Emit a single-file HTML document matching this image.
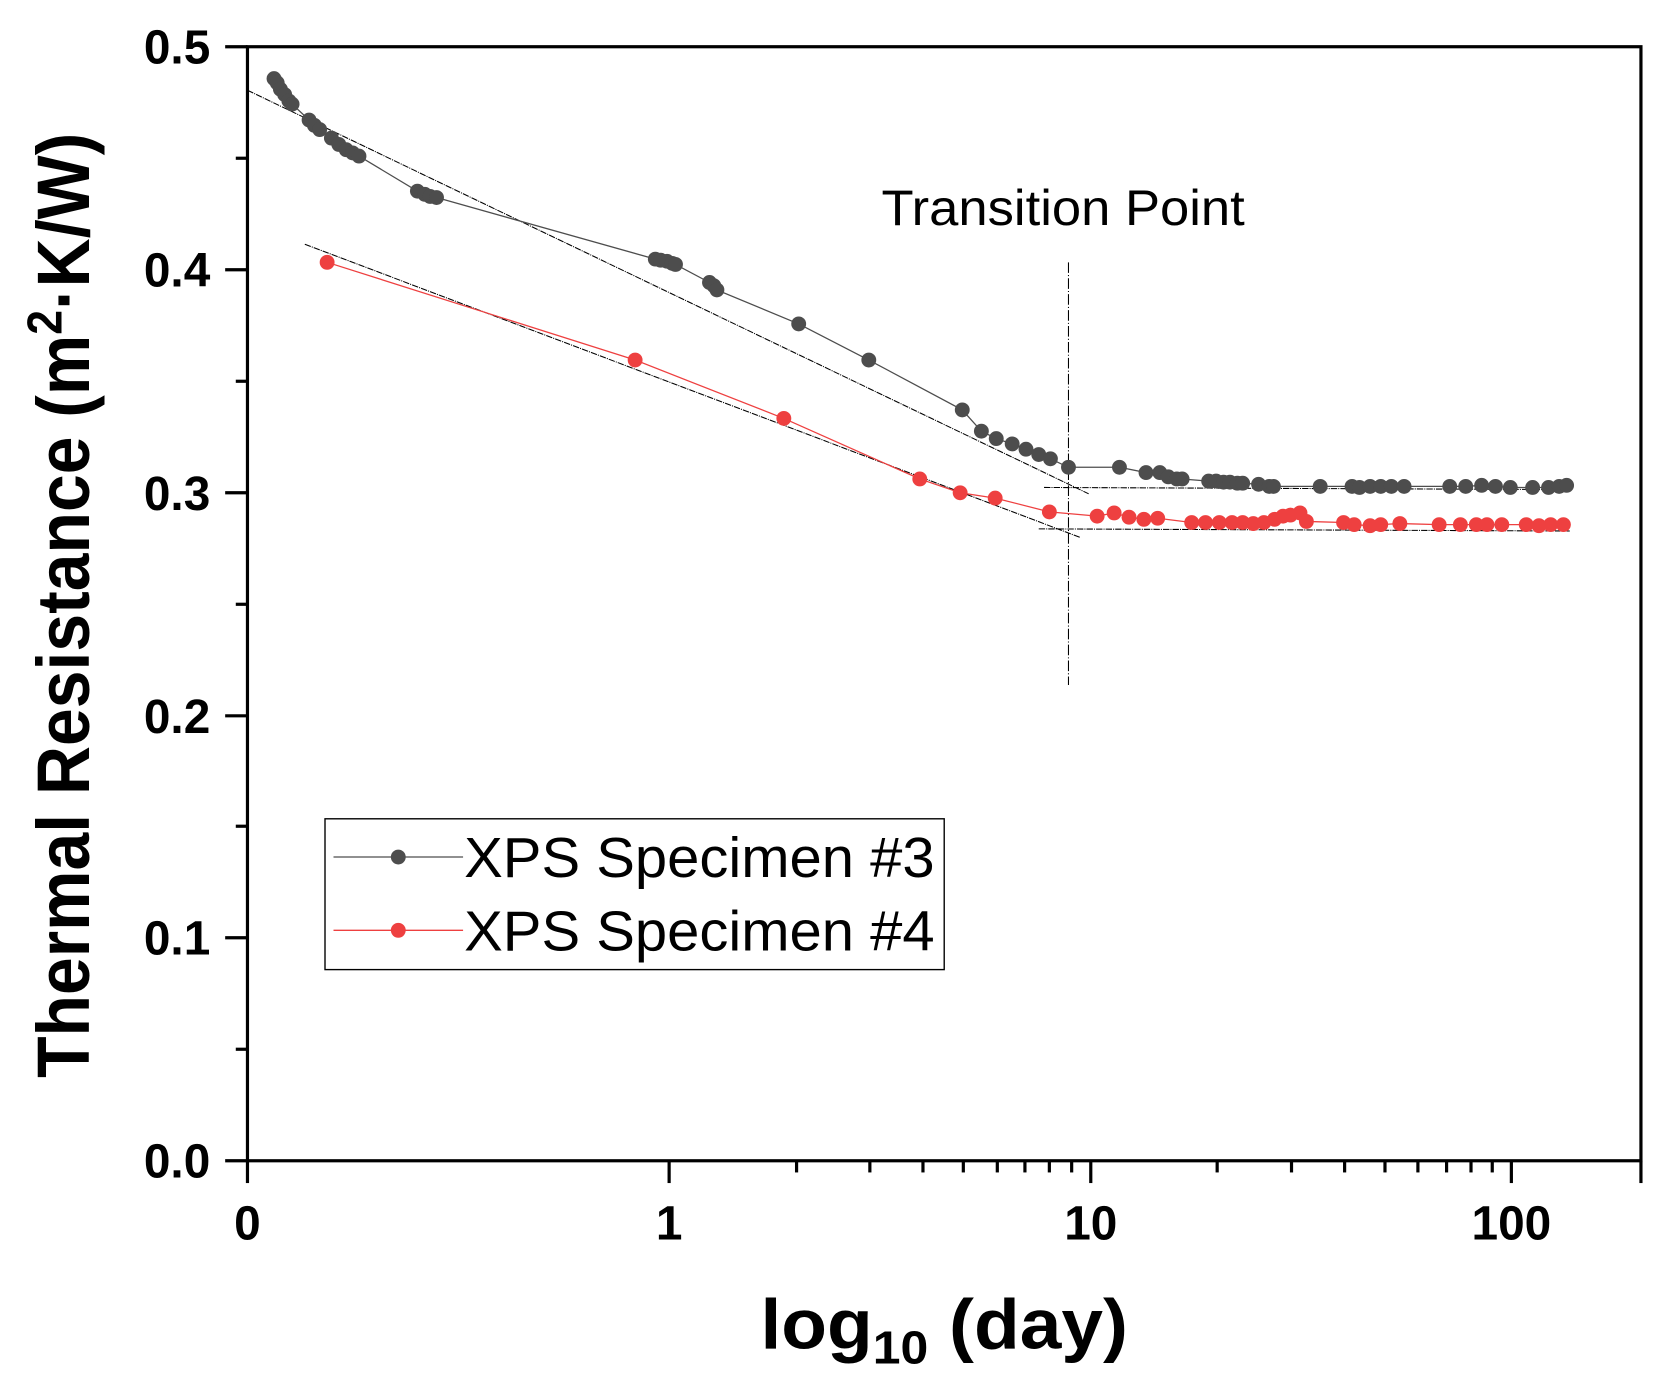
<!DOCTYPE html>
<html><head><meta charset="utf-8"><style>html,body{margin:0;padding:0;background:#fff;overflow:hidden}svg{display:block}</style></head>
<body>
<svg width="1659" height="1379" viewBox="0 0 1562 1298.5" preserveAspectRatio="none" xmlns="http://www.w3.org/2000/svg" font-family="Liberation Sans, Arial, sans-serif">
<rect width="1562" height="1298.5" fill="#fff"/>
<g stroke="#000" stroke-width="1" fill="none" stroke-dasharray="6,1,1,1">
<line x1="233" y1="85" x2="1025" y2="465"/>
<line x1="287" y1="230" x2="1017" y2="506"/>
<line x1="983" y1="459" x2="1478" y2="461"/>
<line x1="978" y1="498" x2="1478" y2="500"/>
<line x1="1006" y1="247" x2="1006" y2="645" stroke-dasharray="10,2,1,2"/>
</g>
<polyline fill="none" stroke="#4d4d4d" stroke-width="1.2" points="258,74 261,78 264,84 268,89 272,95 275,98 291,113 296,118 301,122 312,130 319,136 326,141 332,144 338,147 393,180 400,183 405,185 411,186 617,244 622,245 628,246 633,248 636,249 668,266 672,269 675,273 752,305 818,339 906,386 924,406 938,413 953,418 966,423 978,428 989,432 1006,440 1054,440 1079,445 1092,445 1100,449 1108,451 1113,451 1138,453 1145,453 1152,454 1158,454 1165,455 1170,455 1185,456 1195,458 1199,458 1243,458 1273,458 1280,459 1290,458 1300,458 1310,458 1322,458 1365,458 1380,458 1395,457 1408,458 1422,459 1443,459 1458,459 1468,458 1475,457"/>
<g fill="#4d4d4d">
<circle cx="258" cy="74" r="7"/><circle cx="261" cy="78" r="7"/><circle cx="264" cy="84" r="7"/><circle cx="268" cy="89" r="7"/><circle cx="272" cy="95" r="7"/><circle cx="275" cy="98" r="7"/><circle cx="291" cy="113" r="7"/><circle cx="296" cy="118" r="7"/><circle cx="301" cy="122" r="7"/><circle cx="312" cy="130" r="7"/><circle cx="319" cy="136" r="7"/><circle cx="326" cy="141" r="7"/><circle cx="332" cy="144" r="7"/><circle cx="338" cy="147" r="7"/><circle cx="393" cy="180" r="7"/><circle cx="400" cy="183" r="7"/><circle cx="405" cy="185" r="7"/><circle cx="411" cy="186" r="7"/><circle cx="617" cy="244" r="7"/><circle cx="622" cy="245" r="7"/><circle cx="628" cy="246" r="7"/><circle cx="633" cy="248" r="7"/><circle cx="636" cy="249" r="7"/><circle cx="668" cy="266" r="7"/><circle cx="672" cy="269" r="7"/><circle cx="675" cy="273" r="7"/><circle cx="752" cy="305" r="7"/><circle cx="818" cy="339" r="7"/><circle cx="906" cy="386" r="7"/><circle cx="924" cy="406" r="7"/><circle cx="938" cy="413" r="7"/><circle cx="953" cy="418" r="7"/><circle cx="966" cy="423" r="7"/><circle cx="978" cy="428" r="7"/><circle cx="989" cy="432" r="7"/><circle cx="1006" cy="440" r="7"/><circle cx="1054" cy="440" r="7"/><circle cx="1079" cy="445" r="7"/><circle cx="1092" cy="445" r="7"/><circle cx="1100" cy="449" r="7"/><circle cx="1108" cy="451" r="7"/><circle cx="1113" cy="451" r="7"/><circle cx="1138" cy="453" r="7"/><circle cx="1145" cy="453" r="7"/><circle cx="1152" cy="454" r="7"/><circle cx="1158" cy="454" r="7"/><circle cx="1165" cy="455" r="7"/><circle cx="1170" cy="455" r="7"/><circle cx="1185" cy="456" r="7"/><circle cx="1195" cy="458" r="7"/><circle cx="1199" cy="458" r="7"/><circle cx="1243" cy="458" r="7"/><circle cx="1273" cy="458" r="7"/><circle cx="1280" cy="459" r="7"/><circle cx="1290" cy="458" r="7"/><circle cx="1300" cy="458" r="7"/><circle cx="1310" cy="458" r="7"/><circle cx="1322" cy="458" r="7"/><circle cx="1365" cy="458" r="7"/><circle cx="1380" cy="458" r="7"/><circle cx="1395" cy="457" r="7"/><circle cx="1408" cy="458" r="7"/><circle cx="1422" cy="459" r="7"/><circle cx="1443" cy="459" r="7"/><circle cx="1458" cy="459" r="7"/><circle cx="1468" cy="458" r="7"/><circle cx="1475" cy="457" r="7"/>
</g>
<polyline fill="none" stroke="#ee4040" stroke-width="1.2" points="308,247 598,339 738,394 866,451 904,464 937,469 988,482 1033,486 1049,483 1063,487 1077,489 1090,488 1122,492 1135,492 1148,492 1160,492 1170,492 1180,493 1190,492 1200,489 1208,486 1215,485 1224,483 1230,491 1265,492 1275,494 1290,495 1300,494 1318,493 1355,494 1375,494 1390,494 1400,494 1414,494 1437,494 1449,495 1460,494 1472,494"/>
<g fill="#ee4040">
<circle cx="308" cy="247" r="7"/><circle cx="598" cy="339" r="7"/><circle cx="738" cy="394" r="7"/><circle cx="866" cy="451" r="7"/><circle cx="904" cy="464" r="7"/><circle cx="937" cy="469" r="7"/><circle cx="988" cy="482" r="7"/><circle cx="1033" cy="486" r="7"/><circle cx="1049" cy="483" r="7"/><circle cx="1063" cy="487" r="7"/><circle cx="1077" cy="489" r="7"/><circle cx="1090" cy="488" r="7"/><circle cx="1122" cy="492" r="7"/><circle cx="1135" cy="492" r="7"/><circle cx="1148" cy="492" r="7"/><circle cx="1160" cy="492" r="7"/><circle cx="1170" cy="492" r="7"/><circle cx="1180" cy="493" r="7"/><circle cx="1190" cy="492" r="7"/><circle cx="1200" cy="489" r="7"/><circle cx="1208" cy="486" r="7"/><circle cx="1215" cy="485" r="7"/><circle cx="1224" cy="483" r="7"/><circle cx="1230" cy="491" r="7"/><circle cx="1265" cy="492" r="7"/><circle cx="1275" cy="494" r="7"/><circle cx="1290" cy="495" r="7"/><circle cx="1300" cy="494" r="7"/><circle cx="1318" cy="493" r="7"/><circle cx="1355" cy="494" r="7"/><circle cx="1375" cy="494" r="7"/><circle cx="1390" cy="494" r="7"/><circle cx="1400" cy="494" r="7"/><circle cx="1414" cy="494" r="7"/><circle cx="1437" cy="494" r="7"/><circle cx="1449" cy="495" r="7"/><circle cx="1460" cy="494" r="7"/><circle cx="1472" cy="494" r="7"/>
</g>
<rect x="233" y="44" width="1312" height="1049" fill="none" stroke="#000" stroke-width="3"/>
<g stroke="#000" stroke-width="3">
<line x1="212" y1="44" x2="233" y2="44"/><line x1="212" y1="254" x2="233" y2="254"/><line x1="212" y1="464" x2="233" y2="464"/><line x1="212" y1="674" x2="233" y2="674"/><line x1="212" y1="883" x2="233" y2="883"/><line x1="212" y1="1093" x2="233" y2="1093"/>
<line x1="222" y1="149" x2="233" y2="149"/><line x1="222" y1="359" x2="233" y2="359"/><line x1="222" y1="569" x2="233" y2="569"/><line x1="222" y1="778" x2="233" y2="778"/><line x1="222" y1="988" x2="233" y2="988"/>
<line x1="233" y1="1093" x2="233" y2="1114"/><line x1="630" y1="1093" x2="630" y2="1114"/><line x1="1027" y1="1093" x2="1027" y2="1114"/><line x1="1423" y1="1093" x2="1423" y2="1114"/><line x1="1545" y1="1093" x2="1545" y2="1114"/>
<line x1="750" y1="1093" x2="750" y2="1104"/><line x1="819" y1="1093" x2="819" y2="1104"/><line x1="869" y1="1093" x2="869" y2="1104"/><line x1="907" y1="1093" x2="907" y2="1104"/><line x1="939" y1="1093" x2="939" y2="1104"/><line x1="965" y1="1093" x2="965" y2="1104"/><line x1="988" y1="1093" x2="988" y2="1104"/><line x1="1009" y1="1093" x2="1009" y2="1104"/>
<line x1="1146" y1="1093" x2="1146" y2="1104"/><line x1="1216" y1="1093" x2="1216" y2="1104"/><line x1="1266" y1="1093" x2="1266" y2="1104"/><line x1="1304" y1="1093" x2="1304" y2="1104"/><line x1="1335" y1="1093" x2="1335" y2="1104"/><line x1="1362" y1="1093" x2="1362" y2="1104"/><line x1="1385" y1="1093" x2="1385" y2="1104"/><line x1="1405" y1="1093" x2="1405" y2="1104"/>
</g>
<g font-weight="bold" font-size="45" text-anchor="end" fill="#000">
<text x="198" y="60">0.5</text><text x="198" y="270">0.4</text><text x="198" y="480">0.3</text><text x="198" y="690">0.2</text><text x="198" y="899">0.1</text><text x="198" y="1109">0.0</text>
</g>
<g font-weight="bold" font-size="45" text-anchor="middle" fill="#000">
<text x="233" y="1167">0</text><text x="630" y="1167">1</text><text x="1027" y="1167">10</text><text x="1423" y="1167">100</text>
</g>
<text transform="translate(84,570) rotate(-90)" text-anchor="middle" font-weight="bold" font-size="70" textLength="890" lengthAdjust="spacingAndGlyphs">Thermal Resistance (m<tspan dy="-26" font-size="46">2</tspan><tspan dy="26">·K/W)</tspan></text>
<text x="716" y="1270" font-weight="bold" font-size="66" textLength="346" lengthAdjust="spacingAndGlyphs">log<tspan dy="14" font-size="44">10</tspan><tspan dy="-14"> (day)</tspan></text>
<text x="830" y="212" font-size="47" textLength="342" lengthAdjust="spacingAndGlyphs">Transition Point</text>
<rect x="306" y="771" width="583" height="142" fill="#fff" stroke="#000" stroke-width="1.3"/>
<line x1="314" y1="807" x2="436" y2="807" stroke="#4d4d4d" stroke-width="1.2"/>
<circle cx="375" cy="807" r="7" fill="#4d4d4d"/>
<line x1="314" y1="876" x2="436" y2="876" stroke="#ee4040" stroke-width="1.2"/>
<circle cx="375" cy="876" r="7" fill="#ee4040"/>
<text x="437" y="826" font-size="53" textLength="443" lengthAdjust="spacingAndGlyphs">XPS Specimen #3</text>
<text x="437" y="895" font-size="53" textLength="443" lengthAdjust="spacingAndGlyphs">XPS Specimen #4</text>
</svg>
</body></html>
